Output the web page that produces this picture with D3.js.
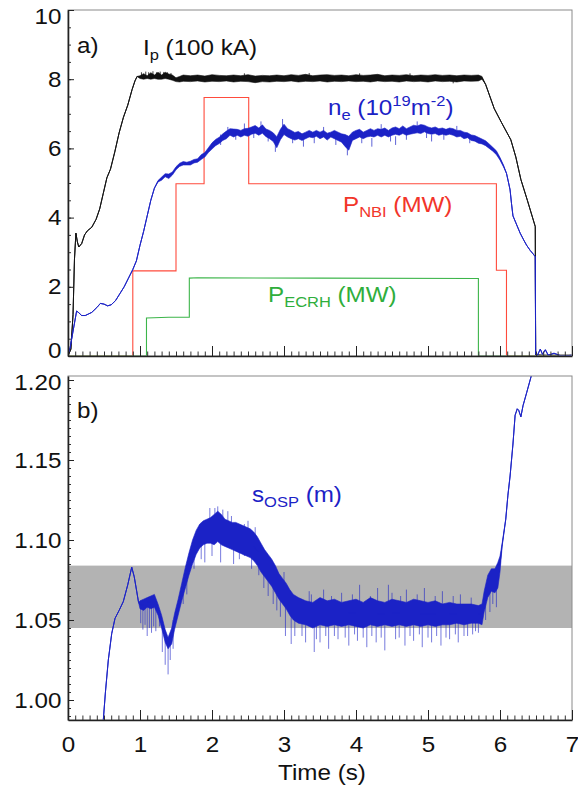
<!DOCTYPE html>
<html>
<head>
<meta charset="utf-8">
<script src="https://cdn.jsdelivr.net/npm/d3@7"></script>
<style>
    body { margin: 0; background: #fff; }
    svg { display: block; }
</style>
</head>
<body>
<div id="chart-container"></div>
<script>
// ---- data ----
// rows are [time (s), low, high]; low == high where the trace is quiet
const ipTrace = [
    [0.00, 0, 0], [0.04, 0.2, 0.2], [0.07, 1.2, 1.2], [0.09, 2.8, 2.8], [0.11, 3.55, 3.55],
    [0.13, 3.3, 3.3], [0.15, 3.15, 3.15], [0.19, 3.25, 3.25], [0.23, 3.5, 3.5], [0.27, 3.62, 3.62],
    [0.33, 3.72, 3.72], [0.39, 3.95, 3.95], [0.44, 4.25, 4.25], [0.49, 4.7, 4.7], [0.54, 5.15, 5.15],
    [0.59, 5.4, 5.4], [0.65, 5.9, 5.9], [0.71, 6.45, 6.45], [0.77, 6.9, 6.9], [0.83, 7.25, 7.25],
    [0.89, 7.7, 7.7], [0.93, 7.95, 7.95], [0.96, 8.08, 8.08],
    [1.00, 8.02, 8.1], [1.05, 8.0, 8.16], [1.10, 8.02, 8.1], [1.15, 8.0, 8.19], [1.20, 8.02, 8.12],
    [1.25, 8.0, 8.2], [1.30, 8.0, 8.12], [1.35, 8.02, 8.2], [1.40, 8.0, 8.15], [1.45, 7.97, 8.12],
    [1.50, 7.93, 8.04], [1.55, 7.92, 8.08], [1.60, 7.94, 8.12], [1.7, 7.93, 8.1], [1.8, 7.95, 8.12],
    [1.9, 7.92, 8.09], [2.0, 7.94, 8.13], [2.1, 7.93, 8.11], [2.2, 7.95, 8.1], [2.3, 7.92, 8.12],
    [2.4, 7.94, 8.1], [2.5, 7.93, 8.13], [2.6, 7.9, 8.09], [2.7, 7.93, 8.11], [2.8, 7.92, 8.1],
    [2.9, 7.94, 8.12], [3.0, 7.93, 8.1], [3.1, 7.95, 8.13], [3.2, 7.92, 8.11], [3.3, 7.94, 8.14],
    [3.4, 7.93, 8.1], [3.5, 7.95, 8.12], [3.6, 7.92, 8.13], [3.7, 7.94, 8.11], [3.8, 7.93, 8.12],
    [3.9, 7.95, 8.1], [4.0, 7.93, 8.13], [4.1, 7.94, 8.11], [4.2, 7.92, 8.12], [4.3, 7.95, 8.14],
    [4.4, 7.93, 8.1], [4.5, 7.94, 8.12], [4.6, 7.92, 8.11], [4.7, 7.95, 8.13], [4.8, 7.93, 8.1],
    [4.9, 7.94, 8.12], [5.0, 7.92, 8.11], [5.1, 7.95, 8.13], [5.2, 7.93, 8.11], [5.3, 7.94, 8.12],
    [5.4, 7.92, 8.1], [5.5, 7.95, 8.12], [5.6, 7.94, 8.11], [5.7, 7.95, 8.12], [5.75, 8.0, 8.08],
    [5.8, 7.85, 7.85], [5.92, 7.15, 7.15], [6.02, 6.75, 6.75], [6.15, 6.25, 6.25], [6.22, 5.75, 5.75],
    [6.29, 5.1, 5.1], [6.38, 4.5, 4.5], [6.49, 3.74, 3.74], [6.495, 0.03, 0.03], [6.6, 0.02, 0.02],
    [7.0, 0.02, 0.02]
];
const ipSpikes = [
    [1.02, 8.05, 8.2], [1.08, 8.05, 8.22], [1.12, 8.05, 8.2], [1.18, 8.05, 8.23], [1.23, 8.05, 8.2],
    [1.28, 8.05, 8.22], [1.33, 8.05, 8.21], [1.38, 8.05, 8.2], [1.43, 8.05, 8.18], [2.45, 8.0, 8.17],
    [3.35, 8.0, 8.18], [4.05, 8.0, 8.17], [4.75, 8.0, 8.17], [5.35, 7.88, 8.0]
];

const neTrace = [
    [0.00, 0.05, 0.05], [0.03, 0.25, 0.25], [0.06, 0.6, 0.6], [0.09, 0.95, 0.95], [0.12, 1.3, 1.3],
    [0.15, 1.25, 1.25], [0.19, 1.17, 1.17], [0.24, 1.17, 1.17], [0.29, 1.22, 1.22], [0.33, 1.26, 1.26],
    [0.40, 1.4, 1.4], [0.45, 1.52, 1.52], [0.50, 1.5, 1.5], [0.55, 1.45, 1.45], [0.60, 1.48, 1.48],
    [0.66, 1.6, 1.6], [0.72, 1.8, 1.8], [0.78, 2.0, 2.0], [0.84, 2.25, 2.25], [0.90, 2.5, 2.5],
    [0.95, 2.75, 2.75], [1.00, 3.2, 3.2], [1.05, 3.6, 3.6], [1.10, 4.05, 4.05], [1.15, 4.5, 4.5],
    [1.20, 4.85, 4.85], [1.25, 5.03, 5.07], [1.30, 5.08, 5.17], [1.35, 5.18, 5.27], [1.40, 5.13, 5.26],
    [1.45, 5.23, 5.32], [1.50, 5.38, 5.47], [1.55, 5.48, 5.57], [1.60, 5.52, 5.62], [1.65, 5.52, 5.6],
    [1.70, 5.52, 5.63], [1.75, 5.58, 5.68], [1.80, 5.6, 5.7], [1.85, 5.68, 5.82], [1.90, 5.75, 5.88],
    [1.95, 5.88, 6.02], [2.00, 5.98, 6.16], [2.05, 6.08, 6.26], [2.10, 6.14, 6.32], [2.15, 6.23, 6.42],
    [2.20, 6.28, 6.5], [2.25, 6.38, 6.57], [2.30, 6.33, 6.56], [2.35, 6.38, 6.55], [2.40, 6.33, 6.52],
    [2.45, 6.38, 6.57], [2.50, 6.35, 6.58], [2.55, 6.41, 6.62], [2.60, 6.44, 6.66], [2.65, 6.38, 6.59],
    [2.70, 6.44, 6.68], [2.75, 6.34, 6.56], [2.80, 6.28, 6.52], [2.85, 6.2, 6.45], [2.90, 6.02, 6.34],
    [2.95, 6.25, 6.55], [3.00, 6.4, 6.7], [3.05, 6.33, 6.57], [3.10, 6.28, 6.52], [3.15, 6.24, 6.46],
    [3.20, 6.28, 6.49], [3.25, 6.23, 6.42], [3.30, 6.28, 6.47], [3.35, 6.33, 6.52], [3.40, 6.31, 6.47],
    [3.45, 6.35, 6.52], [3.50, 6.28, 6.47], [3.55, 6.33, 6.52], [3.60, 6.24, 6.44], [3.65, 6.33, 6.47],
    [3.70, 6.28, 6.52], [3.75, 6.23, 6.47], [3.80, 6.18, 6.42], [3.85, 6.05, 6.4], [3.90, 5.95, 6.35],
    [3.95, 6.23, 6.47], [4.00, 6.28, 6.52], [4.05, 6.33, 6.55], [4.10, 6.28, 6.47], [4.15, 6.33, 6.52],
    [4.20, 6.35, 6.57], [4.25, 6.33, 6.52], [4.30, 6.38, 6.57], [4.35, 6.33, 6.55], [4.40, 6.38, 6.59],
    [4.45, 6.33, 6.52], [4.50, 6.38, 6.59], [4.55, 6.41, 6.62], [4.60, 6.38, 6.57], [4.65, 6.43, 6.65],
    [4.70, 6.38, 6.57], [4.75, 6.41, 6.62], [4.80, 6.43, 6.67], [4.85, 6.45, 6.65], [4.90, 6.43, 6.69],
    [4.95, 6.48, 6.67], [5.00, 6.43, 6.62], [5.05, 6.41, 6.59], [5.10, 6.43, 6.62], [5.15, 6.38, 6.57],
    [5.20, 6.41, 6.59], [5.25, 6.38, 6.55], [5.30, 6.41, 6.59], [5.35, 6.38, 6.57], [5.40, 6.33, 6.52],
    [5.45, 6.35, 6.52], [5.50, 6.28, 6.47], [5.55, 6.31, 6.45], [5.60, 6.23, 6.39], [5.65, 6.21, 6.37],
    [5.70, 6.15, 6.32], [5.75, 6.13, 6.27], [5.80, 6.08, 6.22], [5.85, 6.0, 6.13], [5.90, 5.92, 6.03],
    [5.95, 5.82, 5.93], [6.00, 5.66, 5.74], [6.05, 5.46, 5.51], [6.09, 5.28, 5.28], [6.12, 5.0, 5.0],
    [6.14, 4.8, 4.8], [6.16, 4.4, 4.4], [6.18, 4.05, 4.05], [6.22, 3.85, 3.85], [6.28, 3.55, 3.55],
    [6.33, 3.35, 3.35], [6.37, 3.2, 3.2], [6.42, 3.05, 3.05], [6.46, 2.95, 2.95], [6.49, 2.87, 2.87],
    [6.495, 0.05, 0.05], [6.52, 0.02, 0.02], [6.56, 0.2, 0.2], [6.59, 0.05, 0.05], [6.63, 0.18, 0.18],
    [6.67, 0.02, 0.02], [6.75, 0.08, 0.08], [6.85, 0.0, 0.0], [7.0, 0.02, 0.02]
];
const neSpikes = [
    [2.12, 6.1, 6.4], [2.22, 6.4, 6.62], [2.33, 6.25, 6.45], [2.45, 6.5, 6.72], [2.58, 6.3, 6.5],
    [2.68, 6.55, 6.78], [2.78, 6.2, 6.4], [2.88, 5.9, 6.2], [2.98, 6.5, 6.85], [3.12, 6.15, 6.35],
    [3.27, 6.05, 6.3], [3.42, 6.15, 6.35], [3.55, 6.45, 6.62], [3.72, 6.1, 6.3], [3.88, 5.8, 6.1],
    [4.08, 6.15, 6.35], [4.22, 6.05, 6.3], [4.35, 6.45, 6.7], [4.48, 6.2, 6.4], [4.55, 6.1, 6.35],
    [4.7, 6.25, 6.45], [4.85, 6.55, 6.78], [4.98, 6.3, 6.5], [5.05, 6.2, 6.4], [5.22, 6.25, 6.45],
    [5.4, 6.5, 6.65], [5.58, 6.15, 6.3]
];

// heating powers, [time, MW]
const nbiPower = [
    [0, 0], [0.90, 0], [0.90, 2.46], [1.50, 2.46], [1.50, 4.98], [1.89, 4.98], [1.89, 7.47],
    [2.51, 7.47], [2.51, 4.98], [5.95, 4.98], [5.95, 2.48], [6.09, 2.48], [6.09, 0], [7, 0]
];
const ecrhPower = [
    [0, 0], [1.09, 0], [1.09, 1.1], [1.4, 1.12], [1.685, 1.12], [1.685, 2.25], [1.8, 2.26],
    [3.5, 2.25], [5.70, 2.24], [5.70, 0], [7, 0]
];

// strike point position (m)
const sospTrace = [
    [0.486, 0.985, 0.985], [0.52, 1.005, 1.005], [0.56, 1.025, 1.025], [0.607, 1.0415, 1.0415],
    [0.653, 1.051, 1.051], [0.71, 1.056, 1.056], [0.768, 1.0615, 1.0615], [0.83, 1.072, 1.072],
    [0.885, 1.083, 1.083], [0.92, 1.077, 1.077], [0.954, 1.068, 1.068], [0.98, 1.061, 1.061],
    [1.0, 1.057, 1.062], [1.05, 1.056, 1.063], [1.1, 1.058, 1.064], [1.15, 1.057, 1.065],
    [1.2, 1.058, 1.066], [1.25, 1.053, 1.06], [1.3, 1.045, 1.053], [1.35, 1.036, 1.044],
    [1.39, 1.032, 1.039], [1.44, 1.035, 1.045], [1.48, 1.044, 1.054], [1.53, 1.053, 1.063],
    [1.58, 1.062, 1.073], [1.63, 1.07, 1.083], [1.68, 1.078, 1.092], [1.73, 1.085, 1.1],
    [1.78, 1.091, 1.106], [1.83, 1.095, 1.11], [1.88, 1.097, 1.112], [1.93, 1.098, 1.113],
    [1.98, 1.098, 1.114], [2.03, 1.097, 1.116], [2.08, 1.099, 1.118], [2.13, 1.097, 1.116],
    [2.18, 1.096, 1.113], [2.23, 1.095, 1.112], [2.28, 1.094, 1.111], [2.33, 1.093, 1.111],
    [2.43, 1.091, 1.109], [2.53, 1.089, 1.107], [2.58, 1.087, 1.105], [2.63, 1.084, 1.102],
    [2.68, 1.08, 1.098], [2.73, 1.077, 1.094], [2.78, 1.074, 1.091], [2.83, 1.071, 1.088],
    [2.88, 1.067, 1.084], [2.93, 1.063, 1.079], [2.98, 1.06, 1.076], [3.03, 1.057, 1.073],
    [3.08, 1.053, 1.069], [3.13, 1.05, 1.066], [3.2, 1.048, 1.064], [3.3, 1.047, 1.062],
    [3.4, 1.045, 1.061], [3.5, 1.047, 1.064], [3.6, 1.046, 1.062], [3.7, 1.047, 1.063],
    [3.8, 1.046, 1.061], [3.9, 1.047, 1.062], [4.0, 1.046, 1.063], [4.1, 1.045, 1.061],
    [4.2, 1.047, 1.064], [4.3, 1.046, 1.062], [4.4, 1.047, 1.061], [4.5, 1.046, 1.063],
    [4.6, 1.047, 1.062], [4.7, 1.046, 1.061], [4.8, 1.047, 1.063], [4.9, 1.046, 1.062],
    [5.0, 1.047, 1.061], [5.1, 1.046, 1.062], [5.2, 1.047, 1.06], [5.3, 1.047, 1.061],
    [5.4, 1.048, 1.06], [5.5, 1.047, 1.06], [5.6, 1.048, 1.06], [5.7, 1.048, 1.059],
    [5.75, 1.047, 1.06], [5.78, 1.055, 1.068], [5.83, 1.064, 1.078], [5.88, 1.068, 1.082],
    [5.93, 1.067, 1.082], [5.97, 1.07, 1.086], [6.0, 1.08, 1.09], [6.03, 1.096, 1.098],
    [6.08, 1.113, 1.113], [6.11, 1.128, 1.128], [6.14, 1.14, 1.14], [6.18, 1.16, 1.16],
    [6.21, 1.178, 1.178], [6.24, 1.182, 1.182], [6.26, 1.181, 1.181], [6.29, 1.177, 1.177],
    [6.32, 1.184, 1.184], [6.37, 1.192, 1.192], [6.44, 1.2035, 1.2035], [6.48, 1.21, 1.21]
];
const sospSpikes = [
    [1.01, 1.048, 1.06], [1.04, 1.044, 1.06], [1.07, 1.047, 1.06], [1.1, 1.04, 1.06], [1.13, 1.045, 1.06],
    [1.16, 1.042, 1.06], [1.19, 1.046, 1.06], [1.22, 1.043, 1.058], [1.27, 1.046, 1.056], [1.31, 1.03, 1.048],
    [1.35, 1.022, 1.04], [1.39, 1.016, 1.035], [1.42, 1.025, 1.04], [1.46, 1.032, 1.05],
    [1.6, 1.06, 1.07], [1.65, 1.066, 1.078], [1.75, 1.082, 1.09], [1.85, 1.088, 1.1], [1.9, 1.086, 1.1],
    [1.97, 1.1, 1.12], [2.0, 1.09, 1.1], [2.04, 1.105, 1.12], [2.08, 1.1, 1.121], [2.12, 1.086, 1.1],
    [2.15, 1.105, 1.119], [2.22, 1.1, 1.118], [2.27, 1.1, 1.115], [2.3, 1.085, 1.095], [2.38, 1.088, 1.1],
    [2.45, 1.09, 1.11], [2.5, 1.1, 1.112], [2.55, 1.082, 1.09], [2.6, 1.09, 1.108], [2.65, 1.078, 1.09],
    [2.72, 1.07, 1.08], [2.78, 1.065, 1.08], [2.85, 1.06, 1.072], [2.9, 1.056, 1.07], [2.95, 1.052, 1.065],
    [3.0, 1.062, 1.08], [3.02, 1.04, 1.06], [3.1, 1.035, 1.055], [3.15, 1.04, 1.05],
    [3.25, 1.04, 1.05], [3.3, 1.036, 1.05], [3.35, 1.06, 1.068], [3.38, 1.058, 1.066], [3.42, 1.03, 1.05],
    [3.45, 1.038, 1.05], [3.5, 1.036, 1.05], [3.55, 1.06, 1.069], [3.58, 1.04, 1.05], [3.62, 1.032, 1.05],
    [3.66, 1.058, 1.065], [3.7, 1.04, 1.05], [3.75, 1.038, 1.05], [3.8, 1.06, 1.067], [3.85, 1.039, 1.05],
    [3.9, 1.034, 1.05], [3.95, 1.058, 1.066], [3.98, 1.041, 1.05], [4.02, 1.037, 1.05], [4.05, 1.06, 1.072],
    [4.1, 1.039, 1.05], [4.15, 1.033, 1.05], [4.2, 1.058, 1.065], [4.22, 1.04, 1.05], [4.28, 1.036, 1.05],
    [4.3, 1.06, 1.07], [4.35, 1.039, 1.05], [4.4, 1.031, 1.05], [4.45, 1.06, 1.072], [4.5, 1.058, 1.067],
    [4.55, 1.038, 1.05], [4.6, 1.039, 1.05], [4.62, 1.058, 1.065], [4.68, 1.034, 1.05], [4.7, 1.06, 1.069],
    [4.75, 1.04, 1.05], [4.8, 1.037, 1.05], [4.85, 1.058, 1.066], [4.88, 1.041, 1.05], [4.92, 1.033, 1.05],
    [4.95, 1.06, 1.07], [5.0, 1.039, 1.05], [5.05, 1.036, 1.05], [5.1, 1.058, 1.065], [5.12, 1.04, 1.05],
    [5.18, 1.034, 1.05], [5.2, 1.06, 1.068], [5.25, 1.039, 1.05], [5.3, 1.038, 1.05], [5.35, 1.058, 1.065],
    [5.38, 1.041, 1.05], [5.42, 1.036, 1.05], [5.45, 1.06, 1.066], [5.5, 1.04, 1.05], [5.55, 1.04, 1.05],
    [5.6, 1.058, 1.064], [5.62, 1.041, 1.05], [5.66, 1.043, 1.05], [5.7, 1.042, 1.05],
    [5.8, 1.05, 1.06], [5.86, 1.055, 1.07], [5.9, 1.06, 1.07], [5.95, 1.058, 1.07]
];

// target window for the strike point
const sospWindow = [1.045, 1.084];

// ticks
const timeTicks = [0, 1, 2, 3, 4, 5, 6, 7];
const panelATicks = [0, 2, 4, 6, 8, 10];
const panelBTicks = [1.00, 1.05, 1.10, 1.15, 1.20];

// ---- layout ----
const width = 578;
const height = 785;
const left = 68;
const right = 572;
const panelA = { top: 10, bottom: 356 };
const panelB = { top: 376, bottom: 720 };
const font = "'Liberation Sans', Arial, Helvetica, sans-serif";
const stretch = "scale(1.1,1)";

const blue = "#1b22c6";
const red = "#ff4b3c";
const green = "#3cb54a";

const x = d3.scaleLinear().domain([0, 7]).range([left, right]);
const yA = d3.scaleLinear().domain([0, 10]).range([panelA.bottom, panelA.top]);
const yB = d3.scaleLinear().domain([0.9875, 1.2025]).range([panelB.bottom, panelB.top]);

const svg = d3.select("#chart-container")
    .append("svg")
    .attr("width", width)
    .attr("height", height)
    .style("font-family", font);

// clip each panel to its frame
[["clipA", panelA], ["clipB", panelB]].forEach(([id, p]) => {
    svg.append("clipPath").attr("id", id)
        .append("rect")
        .attr("x", left).attr("y", p.top)
        .attr("width", right - left).attr("height", p.bottom - p.top);
});

const plotA = svg.append("g").attr("clip-path", "url(#clipA)");
const plotB = svg.append("g").attr("clip-path", "url(#clipB)");

// draws a [t, lo, hi] trace: filled envelope plus the centre line
function drawTrace(g, rows, y, color, width) {
    g.append("path")
        .datum(rows)
        .attr("fill", color)
        .attr("stroke", color)
        .attr("stroke-width", 0.6)
        .attr("d", d3.area().x(d => x(d[0])).y0(d => y(d[1])).y1(d => y(d[2])));
    g.append("path")
        .datum(rows)
        .attr("fill", "none")
        .attr("stroke", color)
        .attr("stroke-width", width)
        .attr("d", d3.line().x(d => x(d[0])).y(d => y((d[1] + d[2]) / 2)));
}

function drawSpikes(g, rows, y, color, opacity) {
    g.selectAll(null)
        .data(rows)
        .enter()
        .append("line")
        .attr("x1", d => x(d[0])).attr("x2", d => x(d[0]))
        .attr("y1", d => y(d[1])).attr("y2", d => y(d[2]))
        .attr("stroke", color)
        .attr("stroke-width", 1)
        .attr("stroke-opacity", opacity);
}

const stepLine = d3.line().x(d => x(d[0])).y(d => yA(d[1]));

// ---- panel a ----
drawTrace(plotA, ipTrace, yA, "#111", 1);
drawSpikes(plotA, ipSpikes, yA, "#111", 0.8);

plotA.append("path")
    .datum(nbiPower)
    .attr("fill", "none")
    .attr("stroke", red)
    .attr("stroke-width", 1.1)
    .attr("d", stepLine);

plotA.append("path")
    .datum(ecrhPower)
    .attr("fill", "none")
    .attr("stroke", green)
    .attr("stroke-width", 1.1)
    .attr("d", stepLine);

drawTrace(plotA, neTrace, yA, blue, 1);
drawSpikes(plotA, neSpikes, yA, blue, 0.7);

// ---- panel b ----
plotB.append("rect")
    .attr("x", left)
    .attr("width", right - left)
    .attr("y", yB(sospWindow[1]))
    .attr("height", yB(sospWindow[0]) - yB(sospWindow[1]))
    .attr("fill", "#b3b3b3");

drawSpikes(plotB, sospSpikes, yB, blue, 0.6);
drawTrace(plotB, sospTrace, yB, blue, 1);

// ---- frames and axes ----
function frame(p) {
    svg.append("rect")
        .attr("x", left).attr("y", p.top)
        .attr("width", right - left).attr("height", p.bottom - p.top)
        .attr("fill", "none")
        .attr("stroke", "#8a8a8a")
        .attr("stroke-width", 1);
}

function styleAxis(g) {
    g.attr("font-family", font).attr("font-size", 22).attr("color", "#222");
    g.select(".domain").attr("stroke-width", 1.6);
    g.selectAll("text").attr("fill", "#111");
}

function timeAxis(p, withLabels) {
    svg.append("g")
        .attr("transform", `translate(0,${p.bottom})`)
        .call(d3.axisBottom(x).tickValues(d3.range(0, 7.001, 0.1)).tickSize(-4.5).tickFormat(""))
        .call(g => g.select(".domain").remove())
        .attr("color", "#333");
    const g = svg.append("g")
        .attr("transform", `translate(0,${p.bottom})`)
        .call(d3.axisBottom(x)
            .tickValues(timeTicks)
            .tickSizeInner(-10)
            .tickSizeOuter(0)
            .tickPadding(16)
            .tickFormat(withLabels ? d3.format("d") : ""));
    styleAxis(g);
    g.selectAll("text").attr("transform", stretch);
}

function valueAxis(scale, ticks, minorStep, fmt, p) {
    const [lo, hi] = scale.domain();
    svg.append("g")
        .attr("transform", `translate(${left},0)`)
        .call(d3.axisLeft(scale)
            .tickValues(d3.range(Math.ceil(lo / minorStep) * minorStep, hi, minorStep))
            .tickSize(-3).tickFormat(""))
        .call(g => g.select(".domain").remove())
        .attr("color", "#333");
    const g = svg.append("g")
        .attr("transform", `translate(${left},0)`)
        .call(d3.axisLeft(scale)
            .tickValues(ticks)
            .tickSizeInner(-6)
            .tickSizeOuter(0)
            .tickPadding(6)
            .tickFormat(fmt));
    styleAxis(g);
    // keep the end labels inside the frame height
    g.selectAll(".tick text").attr("transform", d => {
        const yy = scale(d);
        let shift = 0;
        if (yy - p.top < 6) shift = 6 - (yy - p.top);
        if (p.bottom - yy < 6) shift = -6;
        return `translate(0,${shift}) ${stretch}`;
    });
}

frame(panelA);
frame(panelB);
timeAxis(panelA, false);
timeAxis(panelB, true);
valueAxis(yA, panelATicks, 0.5, d3.format("d"), panelA);
valueAxis(yB, panelBTicks, 0.005, d3.format(".2f"), panelB);

// ---- labels ----
function label(xp, yp, color, parts) {
    const t = svg.append("text")
        .attr("transform", `translate(${xp},${yp}) ${stretch}`)
        .attr("fill", color)
        .attr("font-size", 22);
    let level = 0;
    parts.forEach(([txt, kind]) => {
        const target = kind === "sub" ? 5 : kind === "sup" ? -9 : 0;
        t.append("tspan")
            .attr("dy", target - level)
            .attr("font-size", kind ? 15 : 22)
            .text(txt);
        level = target;
    });
    return t;
}

label(77, 53, "#111", [["a)"]]);
label(143, 55, "#111", [["I"], ["p", "sub"], [" (100 kA)"]]);
label(328, 115, blue, [["n"], ["e", "sub"], [" (10"], ["19", "sup"], ["m"], ["-2", "sup"], [")"]]);
label(343, 212, "#f2352a", [["P"], ["NBI", "sub"], [" (MW)"]]);
label(268, 302, "#2fae3c", [["P"], ["ECRH", "sub"], [" (MW)"]]);
label(77, 418, "#111", [["b)"]]);
label(252, 502, blue, [["s"], ["OSP", "sub"], [" (m)"]]);

svg.append("text")
    .attr("transform", `translate(${(left + right) / 2 + 2},780) ${stretch}`)
    .attr("text-anchor", "middle")
    .attr("font-size", 22)
    .attr("fill", "#111")
    .text("Time (s)");
</script>
</body>
</html>
